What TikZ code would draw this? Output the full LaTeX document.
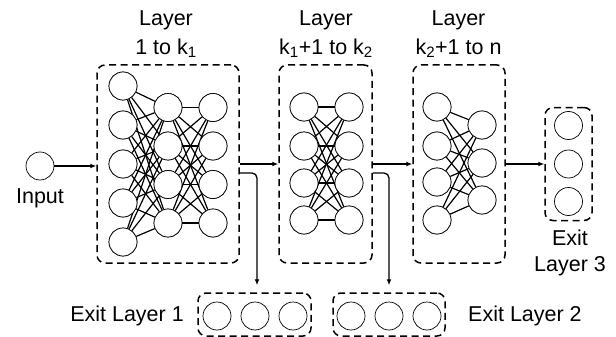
\documentclass[tikz,border=0pt]{standalone}
\usepackage{fontspec}
\setmainfont{Liberation Sans}
\usetikzlibrary{arrows.meta,calc}
\begin{document}
\begin{tikzpicture}[x=1pt,y=-1pt,
 neuron/.style={circle,draw,fill=white,minimum size=28pt,inner sep=0pt,line width=0.7pt},
 dbox/.style={draw,rounded corners=8pt,dash pattern=on 7pt off 4.5pt,line width=1.5pt,inner sep=0pt},
 conn/.style={line width=1.2pt},
 arr/.style={line width=1.3pt,-{Latex[length=6pt,width=5pt]}},
 lbl/.style={font=\fontsize{21.5}{26}\selectfont,inner sep=0pt},
]
\useasboundingbox (0,0) rectangle (616,337);

% dashed boxes
\node[dbox,minimum width=142pt,minimum height=198pt] (B1) at (168,164) {};
\node[dbox,minimum width=93pt,minimum height=198pt] (B2) at (325.5,164) {};
\node[dbox,minimum width=92pt,minimum height=198pt] (B3) at (459,164) {};
\node[dbox,minimum width=47pt,minimum height=113pt] (E3) at (568.5,164) {};
\node[dbox,minimum width=113pt,minimum height=43pt] (E1) at (254.5,314.5) {};
\node[dbox,minimum width=112pt,minimum height=43pt] (E2) at (389,314.5) {};

% neurons
\node[neuron] (in) at (40,166) {};
\foreach \y [count=\i] in {86,125,164,203,242} \node[neuron] (a\i) at (123,\y) {};
\foreach \y [count=\i] in {107.5,146,184.5,223} \node[neuron] (b\i) at (168,\y) {};
\foreach \y [count=\i] in {107.5,146,184.5,223} \node[neuron] (c\i) at (213,\y) {};
\foreach \y [count=\i] in {107,146,183,220} \node[neuron] (d\i) at (304,\y) {};
\foreach \y [count=\i] in {107,146,183,220} \node[neuron] (e\i) at (349,\y) {};
\foreach \y [count=\i] in {107,146,182,220} \node[neuron] (f\i) at (437,\y) {};
\foreach \y [count=\i] in {125,163,200} \node[neuron] (g\i) at (482,\y) {};
\foreach \y [count=\i] in {125.5,164,201.5} \node[neuron] (h\i) at (568.5,\y) {};
\foreach \x [count=\i] in {217,255,293} \node[neuron] (p\i) at (\x,316) {};
\foreach \x [count=\i] in {351,389,427} \node[neuron] (q\i) at (\x,316) {};

% connections
\foreach \i in {1,...,5} \foreach \j in {1,...,4} \draw[conn] (a\i) -- (b\j);
\foreach \i in {1,...,4} \foreach \j in {1,...,4} \draw[conn] (b\i) -- (c\j);
\foreach \i in {1,...,4} \foreach \j in {1,...,4} \draw[conn] (d\i) -- (e\j);
\foreach \i in {1,...,4} \foreach \j in {1,...,3} \draw[conn] (f\i) -- (g\j);

% redraw neurons on top
\foreach \n in {a1,a2,a3,a4,a5,b1,b2,b3,b4,c1,c2,c3,c4,d1,d2,d3,d4,e1,e2,e3,e4,f1,f2,f3,f4,g1,g2,g3}
  \node[neuron] at (\n) {};

% arrows
\draw[arr] (in.east) -- (in.east -| B1.west);
\draw[arr] (B1.east) -- (B2.west);
\draw[arr] (B2.east) -- (B3.west);
\draw[arr] (B3.east) -- (E3.west);
\coordinate (s1) at ($(B1.east)+(0,9)$);
\coordinate (s2) at ($(B2.east)+(0,9)$);
\draw[arr,rounded corners=5pt] (s1) -- (257,173) -- ($(257,0 |- E1.north)+(0,-7)$);
\draw[arr,rounded corners=5pt] (s2) -- (389,173) -- ($(389,0 |- E2.north)+(0,-7)$);

% labels
\node[lbl] (t1a) at (166,20) {Layer};
\node[lbl] (t1b) at (166,48) {1 to k\textsubscript{1}};
\node[lbl] (t2a) at (326,20) {Layer};
\node[lbl] (t2b) at (326,48) {k\textsubscript{1}+1 to k\textsubscript{2}};
\node[lbl] (t3a) at (458.5,20) {Layer};
\node[lbl] (t3b) at (458.5,48) {k\textsubscript{2}+1 to n};
\node[lbl] (tin) at (40,198) {Input};
\node[lbl] (te3a) at (570,238) {Exit};
\node[lbl] (te3b) at (570,266) {Layer 3};
\node[lbl,anchor=east] (te1) at (184,316) {Exit Layer 1};
\node[lbl,anchor=west] (te2) at (468,316) {Exit Layer 2};
\end{tikzpicture}
\end{document}
